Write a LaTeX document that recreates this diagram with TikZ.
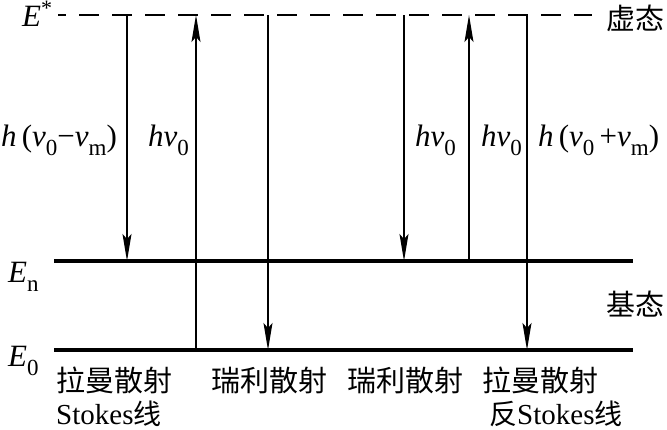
\documentclass[tikz,border=0pt]{standalone}
\usepackage{fontspec}
\setmainfont{Liberation Serif}
\newfontfamily\cjk{Noto Sans CJK SC}
\usetikzlibrary{arrows.meta}
\newcommand\lo[1]{\raisebox{-0.3em}{\fontsize{23}{23}\selectfont #1}}
\newcommand\hi[1]{\raisebox{0.33em}{\fontsize{22}{22}\selectfont #1}}
\newcommand\zh[1]{{\cjk\fontsize{28}{31}\selectfont #1}}
\begin{document}
\begin{tikzpicture}[x=1pt,y=-1pt,
  level/.style={line width=3.4pt},
  virt/.style={line width=1.6pt, dash pattern=on 20pt off 13pt, dash phase=12pt},
  trans/.style={line width=1.6pt, -{Stealth[length=27pt,width=9pt,inset=5pt]}},
  lab/.style={inner sep=0pt, font=\fontsize{31}{33}\selectfont},
  bot/.style={inner sep=0pt, font=\fontsize{29}{31}\selectfont},
  cn/.style={inner sep=0pt, font=\fontsize{29}{31}\selectfont\cjk}]
\useasboundingbox (0,0) rectangle (667,429);
% levels
\coordinate (vL) at (58,15);  \coordinate (vR) at (592,15);
\coordinate (nL) at (54,261); \coordinate (nR) at (633,261);
\coordinate (gL) at (54,350); \coordinate (gR) at (633,350);
\draw[virt] (vL) -- (vR);
\draw[level] (nL) -- (nR);
\draw[level] (gL) -- (gR);
% transitions
\coordinate (a1t) at (127,15);  \coordinate (a1b) at (127,261);
\coordinate (a2t) at (196,15);  \coordinate (a2b) at (196,350);
\coordinate (a3t) at (268,15);  \coordinate (a3b) at (268,350);
\coordinate (a4t) at (404,15);  \coordinate (a4b) at (404,261);
\coordinate (a5t) at (469,15);  \coordinate (a5b) at (469,261);
\coordinate (a6t) at (527,15);  \coordinate (a6b) at (527,350);
\draw[trans] (a1t) -- (a1b);
\draw[trans] (a2b) -- (a2t);
\draw[trans] (a3t) -- (a3b);
\draw[trans] (a4t) -- (a4b);
\draw[trans] (a5b) -- (a5t);
\draw[trans] (a6t) -- (a6b);
% level labels
\node[lab, anchor=base west] (Es) at (22,26) {\textit{E}\hi{*}};
\node[lab, anchor=base west] (En) at (8,282) {\textit{E}\lo{n}};
\node[lab, anchor=base west] (E0) at (8,366) {\textit{E}\lo{0}};
\node[cn, anchor=base west] (xt) at (606,29) {虚态};
\node[cn, anchor=base west] (jt) at (606,315) {基态};
% transition labels
\node[lab, anchor=base west] (l1) at (1,146) {\textit{h}\,(\textit{v}\lo{0}−\textit{v}\lo{m})};
\node[lab, anchor=base west] (l2) at (148,146) {\textit{hv}\lo{0}};
\node[lab, anchor=base west] (l4) at (415,146) {\textit{hv}\lo{0}};
\node[lab, anchor=base west] (l5) at (481,146) {\textit{hv}\lo{0}};
\node[lab, anchor=base west] (l6) at (538,146) {\textit{h}\,(\textit{v}\lo{0}\,+\textit{v}\lo{m})};
% bottom labels
\node[cn, anchor=base west] (b1) at (56,391) {拉曼散射};
\node[cn, anchor=base west] (b2) at (211,391) {瑞利散射};
\node[cn, anchor=base west] (b3) at (347,391) {瑞利散射};
\node[cn, anchor=base west] (b4) at (482,391) {拉曼散射};
\node[bot, anchor=base west] (s1) at (56,424) {Stokes\zh{线}};
\node[bot, anchor=base west] (s2) at (489,424) {\zh{反}Stokes\zh{线}};
\end{tikzpicture}
\end{document}
